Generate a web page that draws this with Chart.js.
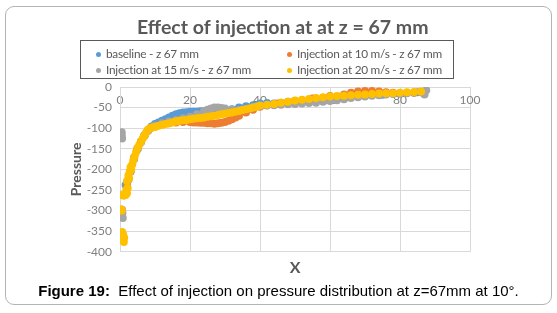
<!DOCTYPE html>
<html>
<head>
<meta charset="utf-8">
<script src="https://cdn.jsdelivr.net/npm/chart.js@4"></script>
<style>
  html, body { margin: 0; padding: 0; background: #fff; }
  #wrap { position: relative; width: 557px; height: 313px; overflow: hidden; }
  #frame { position: absolute; left: 5px; top: 6px; width: 545px; height: 297px;
    border: 1px solid #b4b4b4; border-radius: 9px; }
  #chart { position: absolute; left: 0; top: 0; }
  #title { position: absolute; left: 137px; top: 15px; white-space: nowrap;
    font: bold 19.5px Lato, sans-serif; color: #595959; }
  #legend { position: absolute; left: 80px; top: 40px; width: 372px; height: 37px;
    border: 1px solid #595959; font: 11.8px Lato, sans-serif; letter-spacing: -0.25px; color: #595959; }
  #legend span { position: absolute; white-space: nowrap; }
  #legend i { display: inline-block; width: 5px; height: 5px; border-radius: 50%;
    margin-right: 5px; vertical-align: middle; position: relative; top: -1px; }
  #caption { position: absolute; left: 0; width: 557px; top: 282px; text-align: center;
    font: 15px "Liberation Sans", Arial, sans-serif; color: #000; }
</style>
</head>
<body>
<div id="wrap">
  <div id="frame"></div>
  <canvas id="chart" width="557" height="313"></canvas>
  <div id="title">Effect of injection at at z = 67 mm</div>
  <div id="legend"></div>
  <div id="caption"><b>Figure 19:</b>&nbsp; Effect of injection on pressure distribution at z=67mm at 10°.</div>
</div>
<script>
// series names and colours
const seriesNames = ['baseline - z 67 mm', 'Injection at 10 m/s - z 67 mm',
  'Injection at 15 m/s - z 67 mm', 'Injection at 20 m/s - z 67 mm'];
const seriesColors = ['#5b9bd5', '#ed7d31', '#a5a5a5', '#ffc000'];

// x ticks and y ticks
const xTicks = [0, 20, 40, 60, 80, 100];
const yTicks = [0, -50, -100, -150, -200, -250, -300, -350, -400];

// baseline - z 67 mm
const baselineX = [1.6, 2.0, 2.4, 3, 4, 5, 6, 7, 8, 9, 10, 11, 12, 13, 14, 15, 16, 17, 18, 19, 20, 21, 22, 23, 24, 26, 28, 30, 32, 34, 36, 38, 40, 42, 44, 46, 50, 55, 60, 65, 70, 75, 80, 85];
const baselineP = [-238, -232, -225, -205, -175, -150, -132, -117, -105, -96, -90, -86, -82, -78, -74, -70, -66, -64, -62, -61, -60, -60, -60, -59, -59, -58, -57, -56, -54, -50, -47, -44, -40, -39, -40, -38, -34, -30, -26, -24, -21, -19, -16, -13];

// Injection at 10 m/s - z 67 mm
const inj10X = [2, 3, 4, 5, 6, 7, 8, 9, 10, 12, 14, 16, 18, 20, 21, 22, 23, 24, 25, 26, 27, 28, 29, 30, 31, 32, 33, 34, 36, 38, 40, 42, 45, 48, 50, 55, 60, 64, 66, 68, 70, 72, 74, 76, 78, 80, 84, 86];
const inj10P = [-240, -205, -172, -150, -132, -118, -106, -99, -94, -90, -88, -86, -85, -85, -86, -86, -87, -87, -88, -88, -89, -88, -87, -85, -82, -78, -74, -70, -62, -55, -48, -44, -40, -36, -34, -28, -22, -18, -14, -11, -10, -10, -11, -13, -14, -15, -14, -12];

// Injection at 15 m/s - z 67 mm
const inj15X = [0.5, 0.5, 0.6, 0.6, 0.7, 0.6, 0.8, 3, 4, 5, 6, 7, 8, 10, 12, 14, 16, 18, 20, 22, 24, 25, 26, 27, 28, 29, 30, 32, 34, 36, 38, 40, 42, 44, 46, 48, 50, 52, 54, 56, 58, 60, 62, 64, 66, 68, 70, 72, 74, 76, 78, 80, 82, 84, 86, 87, 87.5];
const inj15P = [-110, -118, -125, -298, -305, -312, -318, -205, -175, -152, -134, -118, -106, -94, -88, -84, -80, -76, -72, -66, -58, -55, -52, -50, -50, -51, -52, -55, -56, -54, -50, -46, -45, -44, -43, -42, -41, -40, -39, -38, -36, -34, -32, -30, -27, -25, -23, -21, -20, -18, -17, -16, -15, -14, -13, -18, -8];

// Injection at 20 m/s - z 67 mm
const inj20X = [0.6, 0.9, 1.2, 0.8, 1.1, 0.3, 0.5, 0.4, 1.0, 1.6, 2.0, 1.8, 2.2, 2.0, 2.6, 2.4, 2.8, 3.2, 3.0, 3.5, 3.8, 4.2, 4.6, 5.0, 5.5, 6.0, 6.5, 7.0, 7.5, 8.0, 8.5, 9.0, 10, 11, 12, 13, 14, 15, 16, 17, 18, 19, 20, 21, 22, 23, 24, 25, 26, 27, 28, 29, 30, 31, 32, 33, 34, 35, 36, 37, 38, 39, 40, 42, 44, 46, 48, 50, 52, 54, 56, 58, 60, 62, 64, 66, 68, 70, 72, 74, 76, 78, 80, 82, 84, 86];
const inj20P = [-352, -358, -366, -372, -376, -297, -300, -262, -264, -262, -258, -250, -245, -228, -222, -215, -205, -200, -195, -188, -178, -168, -158, -148, -140, -132, -125, -117, -110, -104, -100, -98, -97, -94, -92, -90, -88, -86, -84, -82, -81, -80, -78, -77, -76, -75, -74, -72, -71, -70, -68, -66, -65, -63, -62, -60, -58, -56, -54, -52, -50, -48, -45, -43, -41, -38, -36, -33, -31, -29, -27, -25, -23, -22, -21, -20, -19, -18, -17, -16, -15, -15, -14, -13, -12, -11];

function pts(xs, ys) { return xs.map((x, i) => ({ x: x, y: ys[i] })); }

const allSeries = [pts(baselineX, baselineP), pts(inj10X, inj10P), pts(inj15X, inj15P), pts(inj20X, inj20P)];

// leyenda en dos columnas
const legendPos = [[15, 5], [206, 5], [15, 21], [206, 21]];
let legendHtml = '';
seriesNames.forEach((name, i) => {
  legendHtml += `<span style="left:${legendPos[i][0]}px;top:${legendPos[i][1]}px"><i style="background:${seriesColors[i]}"></i>${name}</span>`;
});
document.getElementById('legend').innerHTML = legendHtml;

// draw yellow on top: first dataset is drawn last
const order = [3, 2, 1, 0];
const datasets = order.map(i => ({
  label: seriesNames[i],
  data: allSeries[i],
  backgroundColor: seriesColors[i],
  borderColor: seriesColors[i],
  pointRadius: 4,
  pointBorderWidth: 0,
  showLine: false
}));

const tickFont = { family: 'Lato', size: 12 };

new Chart(document.getElementById('chart'), {
  type: 'scatter',
  data: { datasets: datasets },
  options: {
    responsive: false,
    animation: false,
    layout: { padding: { left: 68, right: 87, top: 87, bottom: 36 } },
    plugins: { legend: { display: false }, title: { display: false }, tooltip: { enabled: false } },
    scales: {
      x: {
        type: 'linear',
        position: { y: 0 },
        min: 0, max: 100,
        afterBuildTicks: s => { s.ticks = xTicks.map(v => ({ value: v })); },
        ticks: { color: '#7f7f7f', font: tickFont, padding: 6 },
        grid: { color: '#d9d9d9', drawTicks: false },
        border: { color: '#d9d9d9' }
      },
      xTitle: {
        type: 'linear',
        axis: 'x',
        position: 'bottom',
        min: 0, max: 100,
        ticks: { display: false },
        grid: { display: false, drawTicks: false },
        border: { display: false },
        title: { display: true, text: 'X', color: '#595959', font: { family: 'Lato', size: 16, weight: 'bold' }, padding: { top: 6, bottom: 0 } }
      },
      y: {
        type: 'linear',
        min: -400, max: 0,
        afterBuildTicks: s => { s.ticks = yTicks.map(v => ({ value: v })); },
        afterFit: s => { s.width = 52; },
        ticks: { color: '#7f7f7f', font: tickFont, padding: 8 },
        grid: { color: '#d9d9d9', drawTicks: false },
        border: { color: '#d9d9d9' },
        title: { display: true, text: 'Pressure', color: '#595959', font: { family: 'Lato', size: 14, weight: 'bold' }, padding: { top: 0, bottom: 2 } }
      }
    }
  }
});
</script>
</body>
</html>
